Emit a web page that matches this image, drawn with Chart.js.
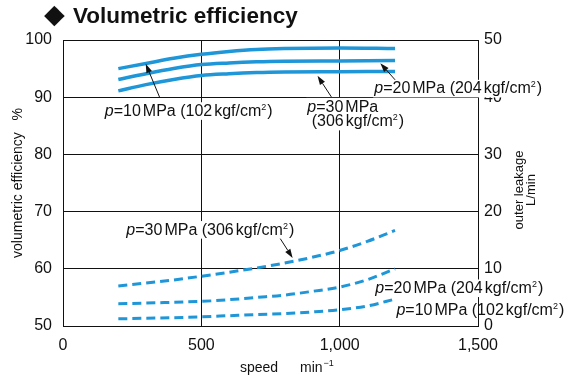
<!DOCTYPE html>
<html><head><meta charset="utf-8">
<script src="https://cdn.jsdelivr.net/npm/chart.js@4/dist/chart.umd.min.js"></script>
<style>html,body{margin:0;padding:0;background:#fff}canvas{display:block}</style>
</head><body>
<canvas id="c" width="577" height="378"></canvas>
<script>
// ---- data ----
const speedEff = [200, 300, 400, 500, 600, 700, 800, 1000, 1200];
const effP10 = [95.0, 95.9, 96.8, 97.5, 98.0, 98.35, 98.5, 98.6, 98.5];
const effP20 = [93.1, 94.1, 95.0, 95.7, 96.0, 96.2, 96.3, 96.35, 96.4];
const effP30 = [91.1, 92.2, 93.1, 93.8, 94.1, 94.3, 94.4, 94.45, 94.5];
const speedLeak = [200, 300, 400, 500, 600, 700, 800, 900, 1000, 1100, 1200];
const leakP30 = [7.0, 7.5, 8.05, 8.7, 9.4, 10.15, 11.0, 12.0, 13.2, 14.8, 16.7];
const leakP20 = [3.9, 4.0, 4.15, 4.3, 4.6, 5.0, 5.4, 6.05, 6.8, 8.1, 10.0];
const leakP10 = [1.25, 1.35, 1.45, 1.6, 1.8, 2.0, 2.15, 2.45, 2.85, 3.5, 4.7];
const speedTicks = [0, 500, 1000, 1500];
const effTicks = [50, 60, 70, 80, 90, 100];
const leakTicks = [0, 10, 20, 30, 40, 50];

const titleText = 'Volumetric efficiency';
const effTitle = 'volumetric efficiency   %';
const leakTitle = ['outer leakage', 'L/min'];
const speedTitle = ['speed', 'min', '\u22121'];

// pressure label pieces: [p MPa, kgf/cm2]
const pLabels = {p10: ['10', '102'], p20: ['20', '204'], p30: ['30', '306']};

// ---- style ----
const FONT = "'Liberation Sans', Arial, Helvetica, sans-serif";
const BLUE = '#1e96d7';
const INK = '#111';

const pts = (xs, ys) => xs.map((x, i) => ({x: x, y: ys[i]}));

function fullLabel(k) {
  const [m, kg] = pLabels[k];
  return [{t:'p', s:'i'}, {t:'=' + m, s:'n'}, {g:2}, {t:'MPa (' + kg, s:'n'}, {g:2}, {t:'kgf/cm', s:'n'}, {t:'2', s:'s'}, {t:')', s:'n'}];
}
function mpaLabel(k) { return [{t:'p', s:'i'}, {t:'=' + pLabels[k][0], s:'n'}, {g:2}, {t:'MPa', s:'n'}]; }
function kgfLabel(k) { return [{t:'(' + pLabels[k][1], s:'n'}, {g:2}, {t:'kgf/cm', s:'n'}, {t:'2', s:'s'}, {t:')', s:'n'}]; }

// annotation anchors in data coordinates
const notes = [
  {x: 151, y: 86.74, ax: 'y', parts: fullLabel('p10'), bg: true},
  {x: 883, y: 87.5, ax: 'y', parts: mpaLabel('p30'), bg: true},
  {x: 899, y: 84.9, ax: 'y', parts: kgfLabel('p30'), bg: true},
  {x: 1125, y: 90.66, ax: 'y', parts: fullLabel('p20'), bg: true},
  {x: 229, y: 15.97, ax: 'y2', parts: fullLabel('p30'), bg: true},
  {x: 1129, y: 5.76, ax: 'y2', parts: fullLabel('p20'), bg: true},
  {x: 1205, y: 1.96, ax: 'y2', parts: fullLabel('p10'), bg: false}
];
const arrows = [
  {from: [350, 89.9], to: [299, 95.85], ax: 'y'},
  {from: [970, 90.05], to: [920, 93.75], ax: 'y'},
  {from: [1201, 93.0], to: [1147, 95.95], ax: 'y'},
  {from: [780, 15.67], to: [830, 11.9], ax: 'y2'}
];

function drawRich(ctx, x, y, parts, size, bg) {
  const fonts = {n: size + 'px ' + FONT, i: 'italic ' + size + 'px ' + FONT, s: Math.round(size * 0.56) + 'px ' + FONT};
  let w = 0; const items = [];
  for (const p of parts) {
    if (p.g) { w += p.g; continue; }
    ctx.font = fonts[p.s];
    const pw = ctx.measureText(p.t).width;
    items.push({x: x + w, t: p.t, f: fonts[p.s], dy: p.s === 's' ? -size * 0.38 : 0});
    w += pw + (p.s === 's' ? 1 : 0);
  }
  if (bg) { ctx.fillStyle = '#fff'; ctx.fillRect(x - 1, y - size * 0.85, w + 2, size * 1.1); }
  ctx.fillStyle = INK; ctx.textBaseline = 'alphabetic'; ctx.textAlign = 'left';
  for (const it of items) { ctx.font = it.f; ctx.fillText(it.t, it.x, y + it.dy); }
}

const decor = {
  id: 'decor',
  afterDraw(chart) {
    const ctx = chart.ctx, sx = chart.scales.x;
    ctx.save();
    // title
    ctx.fillStyle = INK; ctx.textAlign = 'left'; ctx.textBaseline = 'middle';
    ctx.font = "27px 'DejaVu Sans', sans-serif";
    ctx.fillText('\u25C6', 44, 16);
    ctx.textBaseline = 'alphabetic';
    ctx.font = 'bold 22.5px ' + FONT;
    ctx.fillText(titleText, 73, 23);
    // x axis title
    ctx.font = '14px ' + FONT;
    ctx.fillText(speedTitle[0], 240, 372);
    ctx.fillText(speedTitle[1], 300, 372);
    const mw = ctx.measureText(speedTitle[1]).width;
    ctx.font = '9px ' + FONT;
    ctx.fillText(speedTitle[2], 300 + mw + 1, 366);
    // right axis title (rotated, reading upward)
    ctx.save();
    ctx.translate(519, (chart.chartArea.top + chart.chartArea.bottom) / 2 + 7);
    ctx.rotate(-Math.PI / 2);
    ctx.font = '13px ' + FONT; ctx.textAlign = 'center'; ctx.textBaseline = 'middle';
    ctx.fillText(leakTitle[0], 0, 0);
    ctx.fillText(leakTitle[1], 0, 12);
    ctx.restore();
    // arrows
    ctx.strokeStyle = INK; ctx.fillStyle = INK; ctx.lineWidth = 1;
    for (const a of arrows) {
      const sy = chart.scales[a.ax];
      const x1 = sx.getPixelForValue(a.from[0]), y1 = sy.getPixelForValue(a.from[1]);
      const x2 = sx.getPixelForValue(a.to[0]), y2 = sy.getPixelForValue(a.to[1]);
      const ang = Math.atan2(y2 - y1, x2 - x1), L = 9, H = 3;
      const bx = x2 - L * Math.cos(ang), by = y2 - L * Math.sin(ang);
      ctx.beginPath(); ctx.moveTo(x1, y1); ctx.lineTo(bx, by); ctx.stroke();
      ctx.beginPath(); ctx.moveTo(x2, y2);
      ctx.lineTo(bx + H * Math.sin(ang), by - H * Math.cos(ang));
      ctx.lineTo(bx - H * Math.sin(ang), by + H * Math.cos(ang));
      ctx.closePath(); ctx.fill();
    }
    // labels
    for (const n of notes) {
      const sy = chart.scales[n.ax];
      drawRich(ctx, sx.getPixelForValue(n.x), sy.getPixelForValue(n.y), n.parts, 16, n.bg);
    }
    ctx.restore();
  }
};

const solid = (label, data) => ({label, data, borderColor: BLUE, borderWidth: 3.5, pointRadius: 0, cubicInterpolationMode: 'monotone', yAxisID: 'y', fill: false});
const dashed = (label, data) => ({label, data, borderColor: BLUE, borderWidth: 3, borderDash: [9, 5], pointRadius: 0, cubicInterpolationMode: 'monotone', yAxisID: 'y2', fill: false});

new Chart(document.getElementById('c'), {
  type: 'line',
  data: {
    datasets: [
      solid('eff p=10MPa', pts(speedEff, effP10)),
      solid('eff p=20MPa', pts(speedEff, effP20)),
      solid('eff p=30MPa', pts(speedEff, effP30)),
      dashed('leak p=30MPa', pts(speedLeak, leakP30)),
      dashed('leak p=20MPa', pts(speedLeak, leakP20)),
      dashed('leak p=10MPa', pts(speedLeak, leakP10))
    ]
  },
  options: {
    responsive: false, animation: false, devicePixelRatio: 1,
    layout: {padding: {top: 40, left: 0, right: 0, bottom: 0}},
    plugins: {legend: {display: false}, tooltip: {enabled: false}, title: {display: false}},
    scales: {
      x: {
        type: 'linear', position: 'bottom', min: 0, max: 1500,
        afterBuildTicks: s => { s.ticks = speedTicks.map(v => ({value: v})); },
        afterFit: s => { s.height = 52; },
        ticks: {color: INK, font: {family: FONT, size: 16}, padding: 10, maxRotation: 0,
                callback: v => Number(v).toLocaleString('en-US')},
        grid: {color: INK, lineWidth: 1, drawTicks: false},
        border: {display: true, color: INK, width: 1}
      },
      y: {
        type: 'linear', position: 'left', min: 50, max: 100,
        afterBuildTicks: s => { s.ticks = effTicks.map(v => ({value: v})); },
        afterFit: s => { s.width = 63; },
        ticks: {color: INK, font: {family: FONT, size: 16}, padding: 11},
        grid: {color: INK, lineWidth: 1, drawTicks: false},
        border: {display: true, color: INK, width: 1},
        title: {display: true, text: effTitle, color: INK, font: {family: FONT, size: 14}, padding: {top: 10, bottom: 0}}
      },
      y2: {
        type: 'linear', position: 'right', min: 0, max: 50,
        afterBuildTicks: s => { s.ticks = leakTicks.map(v => ({value: v})); },
        afterFit: s => { s.width = 99; },
        ticks: {color: INK, font: {family: FONT, size: 16}, padding: 6},
        grid: {drawOnChartArea: false, drawTicks: false},
        border: {display: true, color: INK, width: 1}
      }
    }
  },
  plugins: [decor]
});
</script>
</body></html>
